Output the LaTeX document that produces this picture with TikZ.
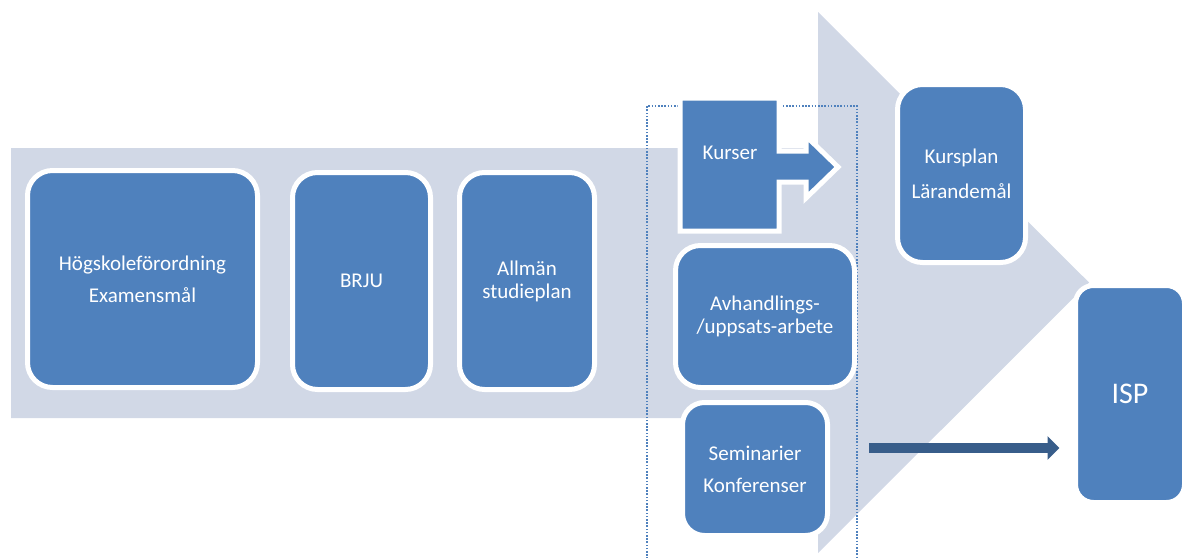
\documentclass[tikz,border=0pt]{standalone}
\usepackage{fontspec}
\setmainfont{Carlito}
\usetikzlibrary{arrows.meta}

\definecolor{ljusbla}{HTML}{D1D8E6}
\definecolor{rutbla}{HTML}{4F81BD}
\definecolor{morkbla}{HTML}{385D8A}

\tikzset{
    ruta/.style = {fill = rutbla, draw = white, line width = 5pt, rounded corners = 25pt,
        text = white, align = center, inner sep = 0pt, font = \fontsize{21}{32}\selectfont},
    tat/.style = {font = \fontsize{21}{23}\selectfont},
    prickram/.style = {draw = rutbla, line width = 2pt, dash pattern = on 1.6pt off 1.6pt},
    pil/.style = {draw = morkbla, line width = 10.5pt, -{Triangle[width = 23pt, length = 12pt]}}
}

\begin{document}
\begin{tikzpicture}[x = 1pt, y = -1pt]
            \useasboundingbox (0, 0) rectangle (1182, 557);

            % stora pilen i bakgrunden
            \fill[ljusbla] (11, 148) -- (818, 148) -- (818, 12) -- (1089, 282.5)
                -- (818, 553) -- (818, 418) -- (11, 418) -- cycle;

            \draw[prickram] (647, 575) -- (647, 106) -- (857, 106) -- (857, 575);

            \node[ruta, minimum width = 230pt, minimum height = 217pt] (hsf) at (142.5, 279)
                {Högskoleförordning\\Examensmål};
            \node[ruta, minimum width = 138pt, minimum height = 217pt] (brju) at (361.5, 281) {BRJU};
            \node[ruta, tat, minimum width = 135pt, minimum height = 217pt] (asp) at (527, 281)
                {Allmän\\studieplan};

            % kurser med pil
            \filldraw[fill = rutbla, draw = white, line width = 5pt] (680, 98) -- (779, 98) -- (779, 151)
                -- (806, 151) -- (806, 136) -- (838, 167) -- (806, 198) -- (806, 182) -- (779, 182)
                -- (779, 231) -- (680, 231) -- cycle;
            \node[text = white, font = \fontsize{21}{25}\selectfont] (kurser) at (730, 153) {Kurser};

            \node[ruta, tat, minimum width = 179pt, minimum height = 142pt] (avh) at (765, 316.5)
                {Avhandlings-\\/uppsats-arbete};
            \node[ruta, minimum width = 145pt, minimum height = 133pt, rounded corners = 22pt] (sem)
                at (755, 469) {Seminarier\\Konferenser};

            \node[ruta, minimum width = 128pt, minimum height = 178pt, font = \fontsize{21}{35}\selectfont]
                (kpl) at (961.5, 173.5) {Kursplan\\Lärandemål};
            \node[ruta, minimum width = 109pt, minimum height = 217pt, rounded corners = 18pt,
                font = \fontsize{30}{36}\selectfont] (isp) at (1130, 394) {ISP};

            \coordinate (pilstart) at (869, 448);
            \draw[pil, shorten > = 13.5pt] (pilstart) -- (pilstart -| isp.west);
        \end{tikzpicture}
\end{document}
